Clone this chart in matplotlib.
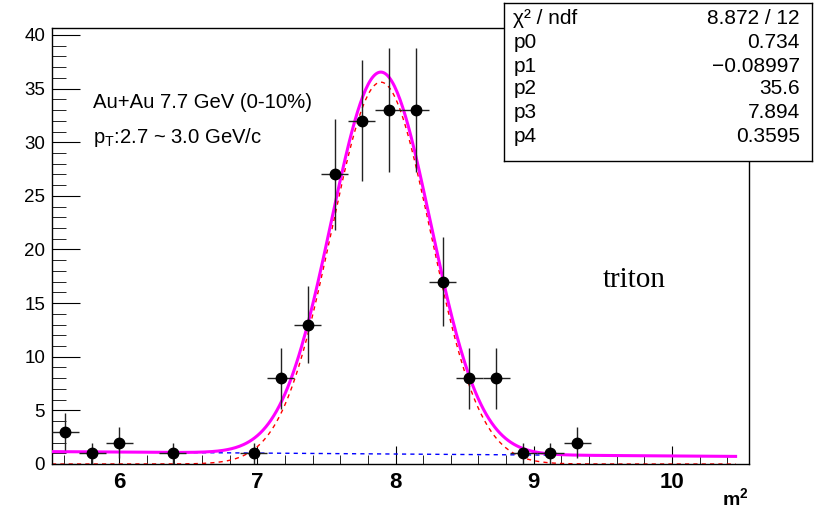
import matplotlib
matplotlib.use('Agg')
import matplotlib.pyplot as plt
import numpy as np
from matplotlib.ticker import MultipleLocator

plt.rcParams['font.family'] = ['Liberation Sans', 'DejaVu Sans']
plt.rcParams['mathtext.fontset'] = 'custom'
plt.rcParams['mathtext.rm'] = 'Liberation Sans'
plt.rcParams['mathtext.it'] = 'Liberation Sans'
plt.rcParams['mathtext.bf'] = 'Liberation Sans:bold'

# data points (bin centres, counts, errors)
m2 = [5.61, 5.805, 6.0, 6.39, 6.975, 7.17, 7.365, 7.56, 7.755, 7.95,
      8.145, 8.34, 8.535, 8.73, 8.925, 9.12, 9.315]
counts = [3, 1, 2, 1, 1, 8, 13, 27, 32, 33, 33, 17, 8, 8, 1, 1, 2]
count_err = [1.73, 1.0, 1.41, 1.0, 1.0, 2.83, 3.61, 5.2, 5.66, 5.74,
             5.74, 4.12, 2.83, 2.83, 1.0, 1.0, 1.41]
bin_half = 0.0975

# fit parameters
gaus_amp = 35.6
gaus_mean = 7.894
gaus_sigma = 0.3595
bg_const = 1.65
bg_slope = -0.08997
fit_range = (5.515, 10.46)

stat_labels = ['χ² / ndf', 'p0', 'p1', 'p2', 'p3', 'p4']
stat_values = ['8.872 / 12', '0.734', '−0.08997', '35.6', '7.894', '0.3595']

fig = plt.figure(figsize=(8.2, 5.09), dpi=100)
ax = fig.add_axes([52 / 820, 45 / 509, 697 / 820, 436 / 509])

x = np.linspace(fit_range[0], fit_range[1], 500)
gaus = gaus_amp * np.exp(-0.5 * ((x - gaus_mean) / gaus_sigma) ** 2)
bg = bg_const + bg_slope * x

ax.plot(x, gaus, color='red', lw=1.0, dashes=(3, 3), zorder=2)
ax.plot(x, bg, color='blue', lw=1.0, dashes=(3, 3), zorder=2)
ax.plot(x, gaus + bg, color='magenta', lw=2.2, zorder=3)

ax.errorbar(m2, counts, yerr=count_err, xerr=bin_half, fmt='o', color='black',
            ecolor='#222222', elinewidth=1.0, markersize=7.5, capsize=0, zorder=4)

ax.set_xlim(5.515, 10.557)
ax.set_ylim(0, 40.65)
ax.xaxis.set_major_locator(MultipleLocator(1))
ax.xaxis.set_minor_locator(MultipleLocator(0.2))
ax.yaxis.set_major_locator(MultipleLocator(5))
ax.yaxis.set_minor_locator(MultipleLocator(1))
ax.tick_params(axis='both', which='both', direction='in', top=False, right=False)
ax.tick_params(axis='x', which='major', length=13, pad=6, labelsize=16)
ax.tick_params(axis='x', which='minor', length=6.5)
ax.tick_params(axis='y', which='major', length=20, pad=5, labelsize=13.5)
ax.tick_params(axis='y', which='minor', length=10)
for lab in ax.get_xticklabels():
    lab.set_fontweight('bold')
for sp in ax.spines.values():
    sp.set_linewidth(1.0)

fig.text(749 / 820, 1 - 505 / 509, r'$\mathbf{m^2}$', ha='right', va='baseline',
         fontsize=14)

fig.text(93 / 820, 1 - 108 / 509, 'Au+Au 7.7 GeV (0-10%)', fontsize=14.6,
         ha='left', va='baseline')
fig.text(93 / 820, 1 - 143 / 509, r'p$_{\mathrm{T}}$:2.7 ~ 3.0 GeV/c', fontsize=14.6,
         ha='left', va='baseline')
fig.text(603 / 820, 1 - 287 / 509, 'triton', fontsize=21,
         family='Liberation Serif', ha='left', va='baseline')

# stats box
box = fig.add_axes([504 / 820, 1 - 161 / 509, 308 / 820, 158 / 509])
box.set_xticks([])
box.set_yticks([])
box.set_xlim(0, 1)
box.set_ylim(0, 1)
for sp in box.spines.values():
    sp.set_linewidth(1.0)
row_y = [19, 43, 66, 89, 112, 136]
for lab, val, ry in zip(stat_labels, stat_values, row_y):
    yy = 1 - (ry - 3) / 158
    box.text(0.03, yy, lab, fontsize=15, ha='left', va='center')
    box.text(0.96, yy, val, fontsize=15, ha='right', va='center')

fig.savefig('out.png', dpi=100)
